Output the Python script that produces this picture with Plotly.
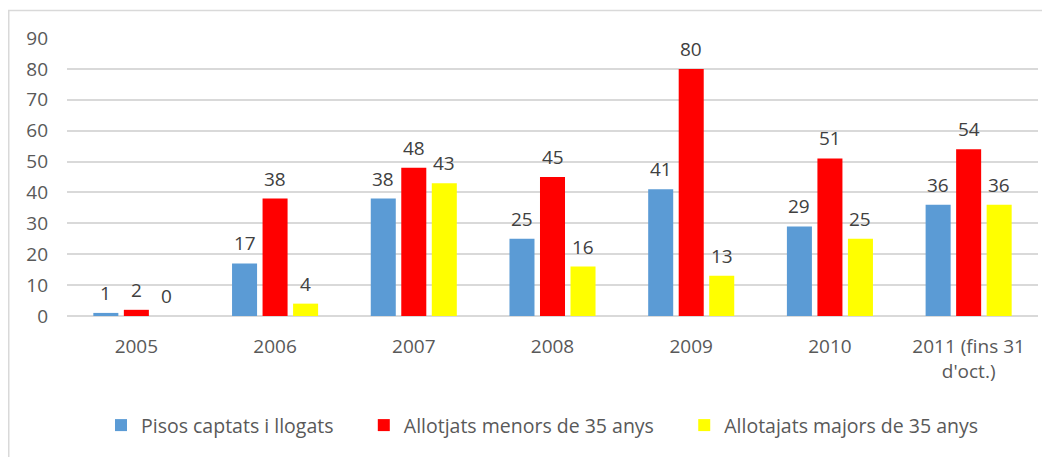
import plotly.graph_objects as go

# dades del gràfic
anys = ["2005", "2006", "2007", "2008", "2009", "2010", "2011 (fins 31<br>d'oct.)"]
pisos = [1, 17, 38, 25, 41, 29, 36]
menors = [2, 38, 48, 45, 80, 51, 54]
majors = [0, 4, 43, 16, 13, 25, 36]

series = [
    ("Pisos captats i llogats", pisos, "#5b9bd5"),
    ("Allotjats menors de 35 anys", menors, "#ff0000"),
    ("Allotajats majors de 35 anys", majors, "#ffff00"),
]

FONT = "Open Sans, Lato, sans-serif"
W, H = 1042, 449          # la pàgina afegeix un marge de 8px
ML, MR, MT, MB = 59, 12, 30, 137
plot_w = W - ML - MR
plot_h = H - MT - MB
bargap = 0.34
pitch = plot_w / len(anys) * (1 - bargap) / len(series)   # amplada de cada barra + separació
PAD = "\u00a0" * 5        # separació extra entre entrades de la llegenda

fig = go.Figure()
annots = []
for i, (nom, vals, color) in enumerate(series):
    fig.add_trace(go.Bar(
        x=anys, y=vals, name=nom + (PAD if i < len(series) - 1 else ""),
        marker=dict(color=color, line=dict(width=0)),
    ))
    # etiquetes de valor sobre cada barra
    for k, v in enumerate(vals):
        annots.append(dict(
            x=k, y=v, xref="x", yref="y", text=str(v), showarrow=False,
            xshift=(i - 1) * pitch, yshift=20, yanchor="middle",
            font=dict(family=FONT, size=19, color="#404040"),
        ))

fig.update_layout(
    width=W, height=H,
    margin=dict(l=ML, r=MR, t=MT, b=MB),
    paper_bgcolor="white", plot_bgcolor="white",
    barmode="group", bargap=bargap, bargroupgap=0.18,
    font=dict(family=FONT, size=19, color="#595959"),
    showlegend=True,
    legend=dict(orientation="h", x=0.4897, xanchor="center",
                y=-(423 - (H - MB)) / plot_h, yanchor="middle",
                font=dict(size=19.5, color="#595959"), itemwidth=30,
                traceorder="normal"),
    xaxis=dict(type="category", showgrid=False, showline=False, ticks="",
               ticklabelstandoff=17, automargin=False),
    yaxis=dict(range=[0, 90], dtick=10, showgrid=True, gridcolor="#d9d9d9", gridwidth=1.5,
               zeroline=True, zerolinecolor="#d9d9d9", zerolinewidth=1.5,
               ticks="", ticklabelstandoff=18, automargin=False),
    annotations=annots,
    shapes=[dict(type="rect", xref="paper", yref="paper",
                 x0=-(ML - 0.75) / plot_w, x1=1.05, y0=-0.6, y1=1 + (MT - 2) / plot_h,
                 line=dict(color="#d9d9d9", width=1.5), fillcolor="rgba(0,0,0,0)")],
)

fig.write_html("out.html")
